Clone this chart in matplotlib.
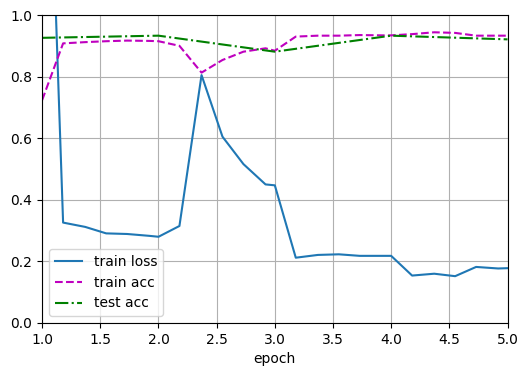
import matplotlib
matplotlib.use("Agg")
import matplotlib.pyplot as plt

# points logged within each epoch
x_train = [1.0, 1.18, 1.37, 1.55, 1.73, 1.92, 2.0,
           2.18, 2.37, 2.55, 2.73, 2.92, 3.0,
           3.18, 3.37, 3.55, 3.73, 3.92, 4.0,
           4.18, 4.37, 4.55, 4.73, 4.92, 5.0]
train_loss = [2.3, 0.326, 0.312, 0.291, 0.289, 0.283, 0.280,
              0.315, 0.805, 0.605, 0.516, 0.450, 0.447,
              0.212, 0.221, 0.223, 0.218, 0.218, 0.218,
              0.154, 0.160, 0.152, 0.182, 0.177, 0.178]
train_acc = [0.724, 0.908, 0.912, 0.915, 0.917, 0.916, 0.915,
             0.900, 0.813, 0.854, 0.881, 0.892, 0.884,
             0.930, 0.933, 0.933, 0.935, 0.934, 0.934,
             0.938, 0.944, 0.942, 0.933, 0.933, 0.933]
x_test = [1, 2, 3, 4, 5]
test_acc = [0.926, 0.933, 0.881, 0.933, 0.921]

fig = plt.figure(figsize=(5.27, 3.76), dpi=100)
ax = fig.add_axes([0.08, 0.141, 0.883, 0.819])

ax.plot(x_train, train_loss, "-", label="train loss")
ax.plot(x_train, train_acc, "m--", label="train acc")
ax.plot(x_test, test_acc, "g-.", label="test acc")

ax.set_xlim(1, 5)
ax.set_ylim(0, 1)
ax.set_xlabel("epoch")
ax.grid(True)
ax.legend(loc="lower left")

fig.savefig("out.png", dpi=100)
